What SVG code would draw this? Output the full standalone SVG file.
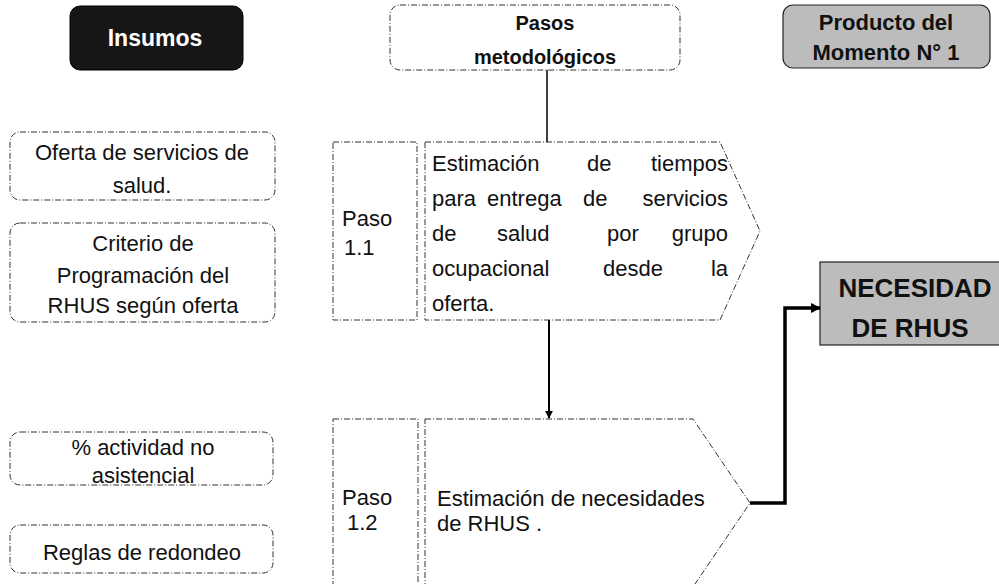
<svg xmlns="http://www.w3.org/2000/svg" width="999" height="584" viewBox="0 0 999 584">
<defs>
<style>
.t{font-family:"Liberation Sans",Arial,sans-serif;font-size:22px;fill:#111}
.b{font-family:"Liberation Sans",Arial,sans-serif;font-weight:bold;fill:#111}
.box{fill:#fff;stroke:#333;stroke-width:1;stroke-dasharray:6 2 1 2}
.grey{fill:#bcbcbc;stroke:#222;stroke-width:1.2}
.c{text-anchor:middle}
.e{text-anchor:end}
</style>
<marker id="ah" viewBox="0 0 10 10" refX="9" refY="5" markerWidth="4" markerHeight="4" orient="auto" markerUnits="strokeWidth"><path d="M0 0L10 5L0 10z" fill="#000"/></marker>
<marker id="ah2" viewBox="0 0 10 10" refX="9" refY="5" markerWidth="3" markerHeight="3" orient="auto" markerUnits="strokeWidth"><path d="M0 0L10 5L0 10z" fill="#000"/></marker>
</defs>
<rect width="999" height="584" fill="#fff"/>

<g id="insumos">
<rect x="70" y="6" width="173" height="64" rx="10" fill="#161616" stroke="#000"/>
<text class="b c" x="155" y="46" font-size="23" fill="#fff" style="fill:#fff">Insumos</text>
</g>

<g id="pasos-metodologicos">
<rect class="box" x="390" y="5" width="290" height="65" rx="10"/>
<text class="b c" x="545" y="30" font-size="20">Pasos</text>
<text class="b c" x="545" y="64" font-size="20">metodológicos</text>
</g>

<g id="producto">
<rect class="grey" x="783" y="5" width="207" height="63" rx="10"/>
<text class="b c" x="886" y="30" font-size="22">Producto del</text>
<text class="b c" x="886" y="60" font-size="22">Momento N° 1</text>
</g>

<g id="oferta">
<rect class="box" x="10" y="132" width="265" height="68" rx="10"/>
<text class="t c" x="142" y="160">Oferta de servicios de</text>
<text class="t c" x="142" y="193">salud.</text>
</g>

<g id="criterio">
<rect class="box" x="10" y="223" width="265" height="99" rx="10"/>
<text class="t c" x="143" y="251">Criterio de</text>
<text class="t c" x="143" y="283">Programación del</text>
<text class="t c" x="143" y="313">RHUS según oferta</text>
</g>

<g id="actividad">
<rect class="box" x="10" y="432" width="263" height="53" rx="10"/>
<text class="t c" x="143" y="455">% actividad no</text>
<text class="t c" x="143" y="483">asistencial</text>
</g>

<g id="reglas">
<rect class="box" x="10" y="525" width="263" height="48" rx="10"/>
<text class="t c" x="142" y="560">Reglas de redondeo</text>
</g>

<g id="paso-1-1">
<rect class="box" x="333" y="142" width="84" height="178"/>
<polygon class="box" points="425,142 720,142 760,231 720,320 425,320"/>
<text class="t" x="342" y="226">Paso</text>
<text class="t" x="344" y="255">1.1</text>
<text class="t" x="432" y="171">Estimación</text>
<text class="t" x="587" y="171">de</text>
<text class="t e" x="728" y="171">tiempos</text>
<text class="t" x="432" y="206">para</text>
<text class="t" x="487" y="206">entrega</text>
<text class="t" x="583" y="206">de</text>
<text class="t e" x="728" y="206">servicios</text>
<text class="t" x="432" y="241">de</text>
<text class="t" x="497" y="241">salud</text>
<text class="t" x="607" y="241">por</text>
<text class="t e" x="728" y="241">grupo</text>
<text class="t" x="432" y="276">ocupacional</text>
<text class="t" x="603" y="276">desde</text>
<text class="t e" x="728" y="276">la</text>
<text class="t" x="432" y="311">oferta.</text>
</g>

<g id="paso-1-2">
<rect class="box" x="333" y="419" width="85" height="175"/>
<polygon class="box" points="425,419 693,419 750,503 693,587 425,587"/>
<text class="t" x="342" y="505">Paso</text>
<text class="t" x="347" y="530">1.2</text>
<text class="t" x="437" y="506">Estimación de necesidades</text>
<text class="t" x="437" y="531">de RHUS .</text>
</g>

<g id="necesidad">
<rect class="grey" x="820" y="262" width="190" height="83"/>
<text class="b c" x="915" y="297" font-size="26">NECESIDAD</text>
<text class="b c" x="910" y="337" font-size="26">DE RHUS</text>
</g>

<g id="connectors" fill="none" stroke="#000">
<line x1="547" y1="70" x2="547" y2="142" stroke-width="1.5"/>
<line x1="549" y1="320" x2="549" y2="418" stroke-width="2" marker-end="url(#ah)"/>
<path d="M750 503H785V308H820" stroke-width="3.5" marker-end="url(#ah2)"/>
</g>
</svg>
